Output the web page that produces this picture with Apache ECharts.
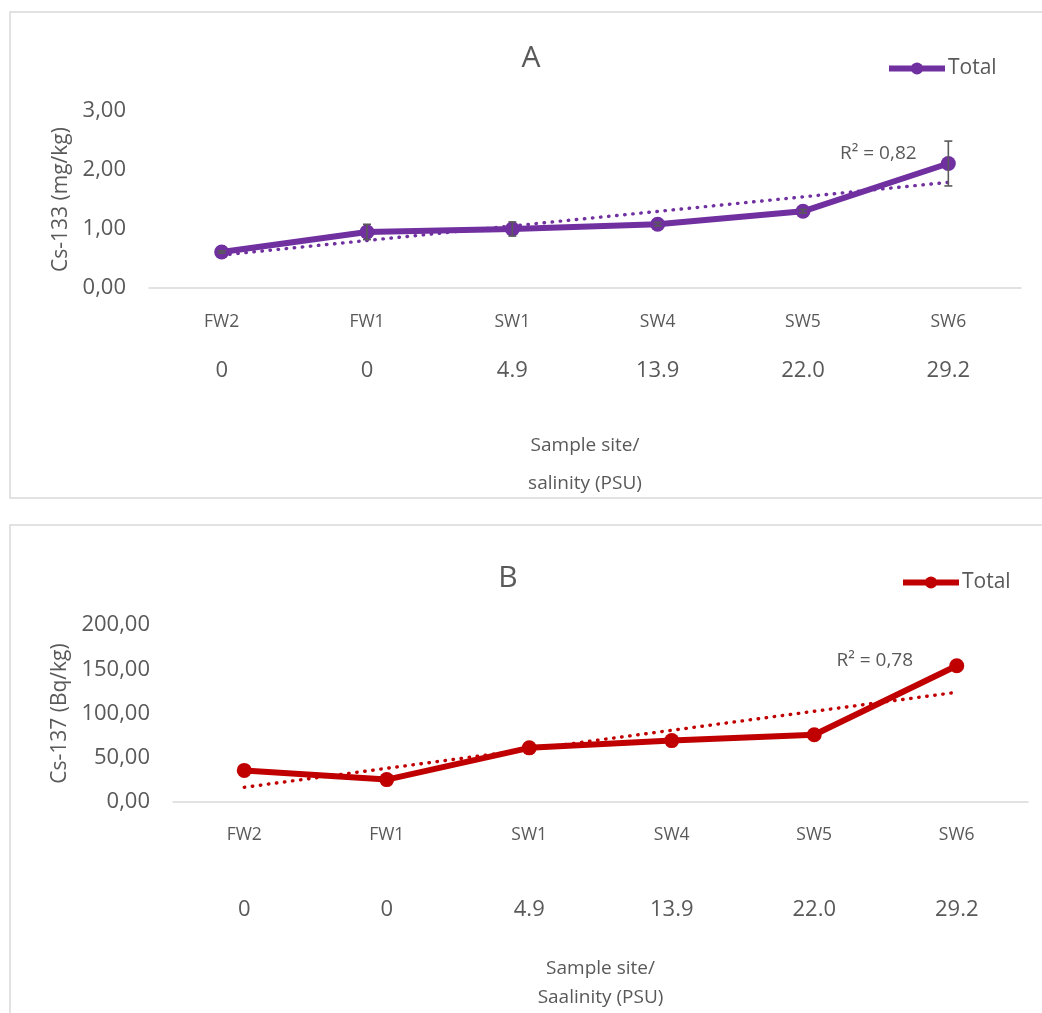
<!DOCTYPE html>
<html>
<head>
<meta charset="utf-8">
<script src="https://cdn.jsdelivr.net/npm/echarts@6/dist/echarts.min.js"></script>
<style>
html,body{margin:0;padding:0;background:#fff;}
#chart{width:1042px;height:1013px;}
</style>
</head>
<body>
<div id="chart"></div>
<script>
const categories = ['FW2', 'FW1', 'SW1', 'SW4', 'SW5', 'SW6'];
const salinity = ['0', '0', '4.9', '13.9', '22.0', '29.2'];
const cs133 = [0.61, 0.95, 1.00, 1.08, 1.30, 2.11];
const cs133Err = [0.02, 0.13, 0.12, 0.03, 0.03, 0.38];
const cs137 = [35.7, 25.3, 61.2, 69.4, 76.0, 154.0];
const r2Labels = ['R\u00b2 = 0,82', 'R\u00b2 = 0,78'];
const titles = ['A', 'B'];
const yNames = ['Cs-133 (mg/kg)', 'Cs-137 (Bq/kg)'];
const xNames = ['Sample site/\nsalinity (PSU)', 'Sample site/\nSaalinity (PSU)'];
const seriesNames = ['Total', 'Total '];

const purple = '#7030A0';
const red = '#C00000';
const textGray = '#595959';
const axisGray = '#d9d9d9';
const FONT = "'Open Sans', sans-serif";

// least-squares linear trendline over category index (as in a spreadsheet trendline)
function linearTrend(vals) {
  const n = vals.length;
  let sx = 0, sy = 0, sxx = 0, sxy = 0;
  vals.forEach((v, i) => { const x = i + 1; sx += x; sy += v; sxx += x * x; sxy += x * v; });
  const b = (n * sxy - sx * sy) / (n * sxx - sx * sx);
  const a = (sy - b * sx) / n;
  return vals.map((v, i) => +(a + b * (i + 1)).toFixed(4));
}
const trendA = linearTrend(cs133);
const trendB = linearTrend(cs137);
const errData = cs133.map((v, i) => [i, v - cs133Err[i], v + cs133Err[i]]);

const commaFmt = v => v.toFixed(2).replace('.', ',');

const chart = echarts.init(document.getElementById('chart'), null, {renderer: 'canvas'});

const legendBase = {itemWidth: 56, itemHeight: 15, itemGap: 4,
  lineStyle: {width: 6}, formatter: () => 'Total',
  textStyle: {fontFamily: FONT, fontSize: 21, color: textGray, padding: [0, 0, 0, -2]}};

const option = {
  backgroundColor: '#fff',
  animation: false,
  textStyle: {fontFamily: FONT, color: textGray},
  graphic: [
    {type: 'rect', shape: {x: 10, y: 12, width: 1040, height: 486}, style: {fill: 'none', stroke: axisGray, lineWidth: 1.5}, silent: true},
    {type: 'rect', shape: {x: 10, y: 525, width: 1040, height: 500}, style: {fill: 'none', stroke: axisGray, lineWidth: 1.5}, silent: true}
  ],
  title: [
    {text: titles[0], left: 526, top: 38, textAlign: 'center', textStyle: {fontFamily: FONT, fontSize: 30, fontWeight: 'normal', color: textGray}},
    {text: titles[1], left: 503, top: 558, textAlign: 'center', textStyle: {fontFamily: FONT, fontSize: 30, fontWeight: 'normal', color: textGray}}
  ],
  legend: [
    Object.assign({data: [seriesNames[0]], left: 881, top: 53}, legendBase),
    Object.assign({data: [seriesNames[1]], left: 895, top: 567}, legendBase)
  ],
  grid: [
    {left: 149, top: 111, width: 872, height: 177, containLabel: false},
    {left: 173, top: 625, width: 855, height: 183.3, containLabel: false}
  ],
  xAxis: [
    {type: 'category', gridIndex: 0, data: categories, boundaryGap: true,
     axisLine: {lineStyle: {color: axisGray, width: 1.5}}, axisTick: {show: false},
     axisLabel: {margin: 34, verticalAlign: 'middle', fontFamily: FONT, fontSize: 17.5, color: textGray},
     name: xNames[0], nameLocation: 'middle', nameGap: 177,
     nameTextStyle: {fontFamily: FONT, fontSize: 19, color: textGray, lineHeight: 38, verticalAlign: 'middle'}},
    {type: 'category', gridIndex: 0, data: salinity, boundaryGap: true, position: 'bottom',
     axisLine: {show: false}, axisTick: {show: false},
     axisLabel: {margin: 83, verticalAlign: 'middle', fontFamily: FONT, fontSize: 22, color: textGray}},
    {type: 'category', gridIndex: 1, data: categories, boundaryGap: true,
     axisLine: {lineStyle: {color: axisGray, width: 1.5}}, axisTick: {show: false},
     axisLabel: {margin: 33, verticalAlign: 'middle', fontFamily: FONT, fontSize: 17.5, color: textGray},
     name: xNames[1], nameLocation: 'middle', nameGap: 181,
     nameTextStyle: {fontFamily: FONT, fontSize: 19, color: textGray, lineHeight: 29, verticalAlign: 'middle'}},
    {type: 'category', gridIndex: 1, data: salinity, boundaryGap: true, position: 'bottom',
     axisLine: {show: false}, axisTick: {show: false},
     axisLabel: {margin: 108, verticalAlign: 'middle', fontFamily: FONT, fontSize: 22, color: textGray}}
  ],
  yAxis: [
    {type: 'value', gridIndex: 0, min: 0, max: 3, interval: 1,
     axisLine: {show: false}, axisTick: {show: false}, splitLine: {show: false},
     axisLabel: {formatter: commaFmt, margin: 23, fontFamily: FONT, fontSize: 22, color: textGray},
     name: yNames[0], nameLocation: 'middle', nameRotate: 90, nameGap: 87,
     nameTextStyle: {fontFamily: FONT, fontSize: 21, color: textGray, verticalAlign: 'middle'}},
    {type: 'value', gridIndex: 1, min: 0, max: 200, interval: 50,
     axisLine: {show: false}, axisTick: {show: false}, splitLine: {show: false},
     axisLabel: {formatter: commaFmt, margin: 23, fontFamily: FONT, fontSize: 22, color: textGray},
     name: yNames[1], nameLocation: 'middle', nameRotate: 90, nameGap: 111,
     nameTextStyle: {fontFamily: FONT, fontSize: 21, color: textGray, verticalAlign: 'middle'}}
  ],
  series: [
    {name: 'trendA', type: 'line', xAxisIndex: 0, yAxisIndex: 0, data: trendA, symbol: 'none', z: 2,
     lineStyle: {color: purple, width: 3.4, type: [0.5, 7.6], cap: 'round'}, silent: true,
     markPoint: {symbol: 'circle', symbolSize: 0, silent: true,
       data: [{coord: [categories[5], trendA[5]], label: {show: true, formatter: r2Labels[0], offset: [-70, -29],
         fontFamily: FONT, fontSize: 19, color: textGray}}]}},
    {name: seriesNames[0], type: 'line', xAxisIndex: 0, yAxisIndex: 0, data: cs133, z: 3,
     symbol: 'circle', symbolSize: 15, itemStyle: {color: purple},
     lineStyle: {color: purple, width: 6}},
    {name: 'errA', type: 'custom', xAxisIndex: 0, yAxisIndex: 0, data: errData, z: 5, silent: true,
     renderItem: function (params, api) {
       const x = api.value(0);
       const lo = api.coord([x, api.value(1)]);
       const hi = api.coord([x, api.value(2)]);
       const w = 4;
       const st = {stroke: textGray, lineWidth: 1.6};
       return {type: 'group', children: [
         {type: 'line', shape: {x1: lo[0], y1: lo[1], x2: hi[0], y2: hi[1]}, style: st},
         {type: 'line', shape: {x1: lo[0] - w, y1: lo[1], x2: lo[0] + w, y2: lo[1]}, style: st},
         {type: 'line', shape: {x1: hi[0] - w, y1: hi[1], x2: hi[0] + w, y2: hi[1]}, style: st}
       ]};
     }},
    {name: 'trendB', type: 'line', xAxisIndex: 2, yAxisIndex: 1, data: trendB, symbol: 'none', z: 2,
     lineStyle: {color: red, width: 3.4, type: [0.5, 7.6], cap: 'round'}, silent: true,
     markPoint: {symbol: 'circle', symbolSize: 0, silent: true,
       data: [{coord: [categories[5], trendB[5]], label: {show: true, formatter: r2Labels[1], offset: [-82, -32],
         fontFamily: FONT, fontSize: 19, color: textGray}}]}},
    {name: seriesNames[1], type: 'line', xAxisIndex: 2, yAxisIndex: 1, data: cs137, z: 3,
     symbol: 'circle', symbolSize: 15, itemStyle: {color: red},
     lineStyle: {color: red, width: 6}}
  ]
};
chart.setOption(option);
</script>
</body>
</html>
